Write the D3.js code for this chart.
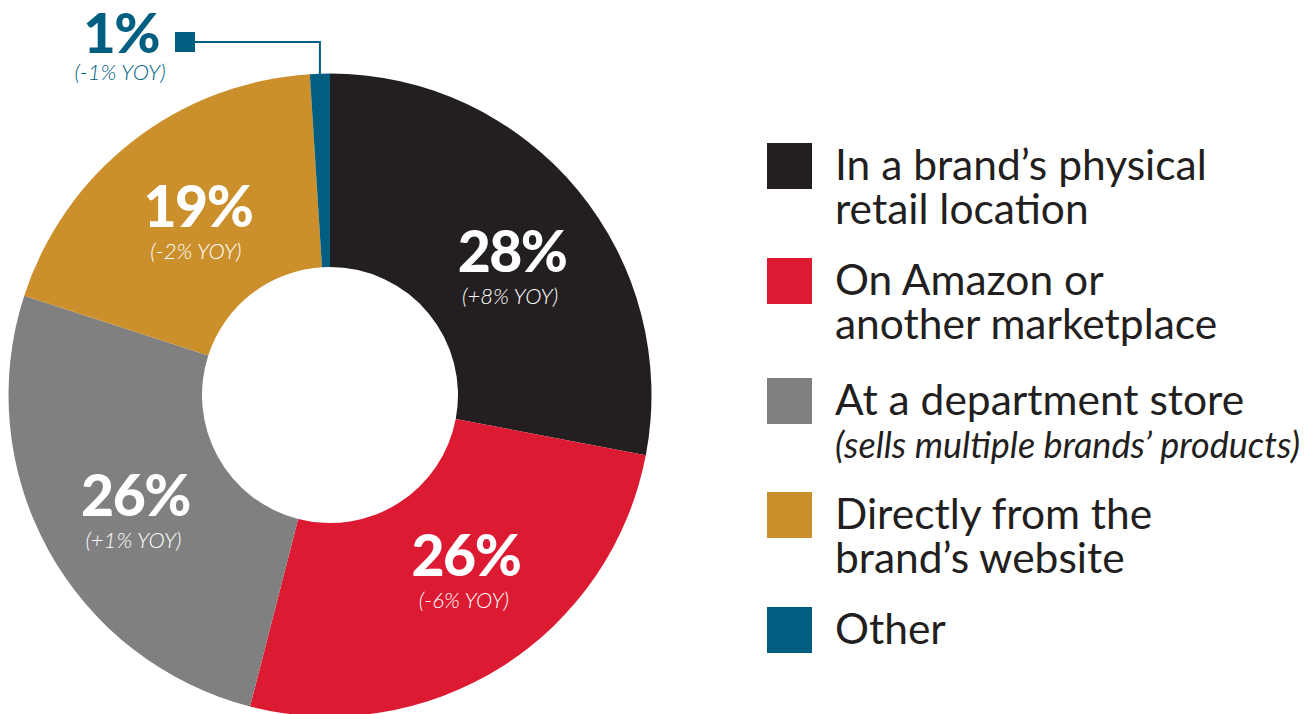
<!DOCTYPE html>
<html>
<head>
<meta charset="utf-8">
<script src="https://cdn.jsdelivr.net/npm/d3@7"></script>
<style>
  html, body { margin: 0; padding: 0; background: #fff; }
  svg { display: block; }
  text { font-family: Lato, "Open Sans", sans-serif; }
</style>
</head>
<body>
<svg id="chart" width="1311" height="714"></svg>
<script>
// Where shoppers buy: share of purchases by channel
const categories = [
  "In a brand\u2019s physical retail location",
  "On Amazon or another marketplace",
  "At a department store",
  "Directly from the brand\u2019s website",
  "Other"
];
const shares = [28, 26, 26, 19, 1];
const yoyChanges = ["+8%", "-6%", "+1%", "-2%", "-1%"];
const colors = ["#231f20", "#dc1a32", "#808080", "#cb8f2c", "#005f80"];

// Legend text, one array of lines per category
const legendLines = [
  ["In a brand\u2019s physical", "retail location"],
  ["On Amazon or", "another marketplace"],
  ["At a department store"],
  ["Directly from the", "brand\u2019s website"],
  ["Other"]
];
const legendNotes = ["", "", "(sells multiple brands\u2019 products)", "", ""];

const svg = d3.select("#chart");
const cx = 330, cy = 395;
const outerR = 321.5, innerR = 128;

const pie = d3.pie().value(d => d).sort(null);
const arcs = pie(shares);
const arc = d3.arc().innerRadius(innerR).outerRadius(outerR);

const g = svg.append("g").attr("transform", `translate(${cx},${cy})`);

g.selectAll("path.slice")
  .data(arcs)
  .join("path")
  .attr("class", "slice")
  .attr("d", arc)
  .attr("fill", (d, i) => colors[i]);

// In-slice value labels (slightly nudged from the centroid for balance)
const labelArc = d3.arc().innerRadius(222).outerRadius(222);
const nudges = [[11, 18], [17, -6], [0, 14], [4, 7]];

arcs.slice(0, 4).forEach((a, i) => {
  const [x, y] = labelArc.centroid(a);
  const lx = x + nudges[i][0], ly = y + nudges[i][1];
  g.append("text")
    .attr("x", lx).attr("y", ly)
    .attr("text-anchor", "middle")
    .attr("font-size", 57).attr("font-weight", 900)
    .attr("letter-spacing", -1.5)
    .attr("fill", "#fff")
    .text(shares[i] + "%");
  g.append("text")
    .attr("x", lx - 2).attr("y", ly + 32)
    .attr("text-anchor", "middle")
    .attr("font-size", 22).attr("font-style", "italic").attr("font-weight", 300)
    .attr("fill", "#fff")
    .text(`(${yoyChanges[i]} YOY)`);
});

// Callout for the small "Other" slice
const other = arcs[4];
const mid = (other.startAngle + other.endAngle) / 2;
const tipX = cx + outerR * Math.sin(mid);
const tipY = cy - outerR * Math.cos(mid);
const calloutY = 42;
svg.append("polyline")
  .attr("points", `${185},${calloutY} ${tipX},${calloutY} ${tipX},${tipY + 2}`)
  .attr("fill", "none")
  .attr("stroke", colors[4])
  .attr("stroke-width", 2);
svg.append("rect")
  .attr("x", 175).attr("y", calloutY - 10)
  .attr("width", 20).attr("height", 20)
  .attr("fill", colors[4]);
svg.append("text")
  .attr("x", 159).attr("y", 53)
  .attr("text-anchor", "end")
  .attr("font-size", 56).attr("font-weight", 900)
  .attr("letter-spacing", -1.5)
  .attr("fill", colors[4])
  .text(shares[4] + "%");
svg.append("text")
  .attr("x", 120).attr("y", 80)
  .attr("text-anchor", "middle")
  .attr("font-size", 22).attr("font-style", "italic").attr("font-weight", 300)
  .attr("fill", colors[4])
  .text(`(${yoyChanges[4]} YOY)`);

// Legend
const legendX = 767, swatch = 45;
const rowTops = [143, 258, 378, 492, 607];
const lineGap = 44;

const legend = svg.append("g");
categories.forEach((c, i) => {
  const top = rowTops[i];
  legend.append("rect")
    .attr("x", legendX).attr("y", top)
    .attr("width", swatch).attr("height", 46)
    .attr("fill", colors[i]);
  const lines = legendLines[i];
  lines.forEach((ln, j) => {
    legend.append("text")
      .attr("x", 835).attr("y", top + 37 + j * lineGap)
      .attr("font-size", 42.5)
      .attr("fill", "#231f20")
      .text(ln);
  });
  if (legendNotes[i]) {
    legend.append("text")
      .attr("x", 835).attr("y", top + 37 + lines.length * lineGap - 1)
      .attr("font-size", 36).attr("font-style", "italic")
      .attr("fill", "#231f20")
      .text(legendNotes[i]);
  }
});
</script>
</body>
</html>
